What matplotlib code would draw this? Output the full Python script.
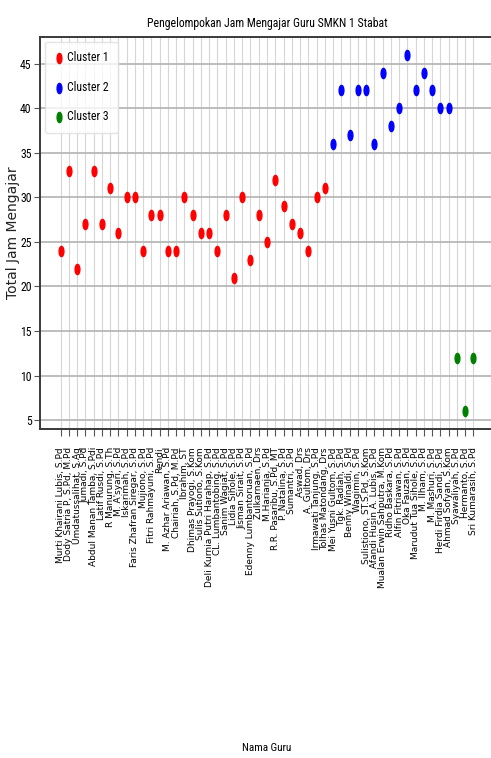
import matplotlib
matplotlib.use('Agg')
import matplotlib.pyplot as plt
from matplotlib import font_manager
from matplotlib.path import Path
from matplotlib.transforms import Affine2D

nama_guru = [
    'Murti Khairani Lubis, S.Pd', 'Dody Satria P, S.Pd, M.Pd', 'Umdatussalihat, S.Ag',
    'Jumadi, S.Pd', 'Abdul Manan Tamba, S.Pdi', 'Latif Rusdi, S.Pd', 'R Manurung, S.Th',
    "M. A'syari, S.Pd", 'Iskarimah, S.Pd', 'Faris Zhafran Siregar, S.Pd', 'Mujiono, S.Pd',
    'Fitri Rahmayuni, S.Pd', 'Rendi', 'M. Azhar Ariawan, S.Pd', 'Chairiah, S.Pd, M.Pd',
    'Ibrahim, ST', 'Dhimas Prayogi, S.Kom', 'Sulis Sutiono, S.Kom',
    'Deli Kurnia Putri Harahap, S.Pd', 'CL. Lumbantobing, S.Pd', 'Sanim Wagiat, S.Pd',
    'Lidia Sihole, S.Pd', 'Jisman Sirait, S.Pd', 'Edenny Lumbantoruan, S.Pd',
    'Zulkarnaen, Drs', 'M.Harianja, S.Pd', 'R.R. Pasaribu, S.Pd, MT', 'P. Natalina, S.Pd',
    'Sumantri, S.Pd', 'Aswad, Drs', 'A. Gultom, Drs', 'Irmawati Tanjung, S.Pd',
    'Tolhas Matondang, Drs', 'Mei Yusni Gultom, S.Pd', 'Tgk. Radiah, S.Pd',
    'Benny Winaldi, S.Pd', 'Wagimin, S.Pd', 'Sulistiono, ST.S.Pd, S.Kom',
    'Afandi Husin A. Lubis, S.Pd', 'Mualan Erwin Sahputra, M.Kom', 'Ridho Baskara, S.Pd',
    'Alfin Fitriawan, S.Pd', 'Oka Fauzan, S.Pd', 'Marudut Tua Sihole, S.Pd', 'M. Ilham, S.Pd',
    'M. Mashuri, S.Pd', 'Herdi Firdia Sandi, S.Pd', 'Ahmad Sofyan, S.Kom',
    'Syawaliyah, S.Pd', 'Hermanto, S.Pd', 'Sri Kumarasih, S.Pd',
]

jam_cluster1 = [24, 33, 22, 27, 33, 27, 31, 26, 30, 30, 24, 28, 28, 24, 24, 30, 28,
                26, 26, 24, 28, 21, 30, 23, 28, 25, 32, 29, 27, 26, 24, 30, 31]
jam_cluster2 = [36, 42, 37, 42, 42, 36, 44, 38, 40, 46, 42, 44, 42, 40, 40]
jam_cluster3 = [12, 6, 12]

label_cluster = ['Cluster 1', 'Cluster 2', 'Cluster 3']
warna_cluster = ['red', 'blue', 'green']

# font sempit kalau ada, buat teks horizontal
installed = {f.name for f in font_manager.fontManager.ttflist}
narrow = 'DejaVu Sans'
for cand in ['Liberation Sans Narrow', 'Roboto Condensed', 'Open Sans Condensed']:
    if cand in installed:
        narrow = cand
        break
k = 1.0 if narrow != 'DejaVu Sans' else 0.85

# marker lonjong (gambar aslinya tergencet ke samping)
lonjong = Path.unit_circle().transformed(Affine2D().scale(0.47, 1.0))

fig = plt.figure(figsize=(4.91, 7.58), dpi=100)
ax = fig.add_axes([40 / 491, 1 - 429 / 758, 454 / 491, 392 / 758])

n1 = len(jam_cluster1)
n2 = len(jam_cluster2)
grup = [nama_guru[:n1], nama_guru[n1:n1 + n2], nama_guru[n1 + n2:]]
nilai = [jam_cluster1, jam_cluster2, jam_cluster3]
for g, v, lab, w in zip(grup, nilai, label_cluster, warna_cluster):
    ax.scatter(g, v, s=54, marker=lonjong, color=w, label=lab, zorder=3)

ax.set_axisbelow(True)
ax.xaxis.grid(True, color='#d6d6d6', lw=0.8)
ax.yaxis.grid(True, color='#b8b8b8', lw=1.3)
ax.set_yticks([5, 10, 15, 20, 25, 30, 35, 40, 45])

for s in ax.spines.values():
    s.set_color('#3a3a3a')
    s.set_linewidth(1.4)

ax.tick_params(axis='x', labelrotation=90, labelsize=6.5, length=5, pad=8, color='#555555')
ax.tick_params(axis='y', labelsize=8.5 * k, length=4, pad=2, color='#555555')
for t in ax.get_yticklabels():
    t.set_family(narrow)

ax.set_title('Pengelompokan Jam Mengajar Guru SMKN 1 Stabat', family=narrow,
             fontsize=8.5 * k, pad=7)
ax.set_ylabel('Total Jam Mengajar', fontsize=10, color='#222222')
ax.yaxis.set_label_coords(-20 / 454, 0.5)
ax.set_xlabel('Nama Guru', family=narrow, fontsize=8 * k, va='center')
ax.xaxis.set_label_coords(0.5, -(748 - 429) / 392)

leg = ax.legend(loc='upper left', prop={'family': narrow, 'size': 8.5 * k},
                labelspacing=1.4, handletextpad=0.2, borderpad=0.8,
                handlelength=0.9, borderaxespad=0.4, frameon=True)
leg.get_frame().set_edgecolor('#dddddd')

fig.savefig('out.png', dpi=100)
